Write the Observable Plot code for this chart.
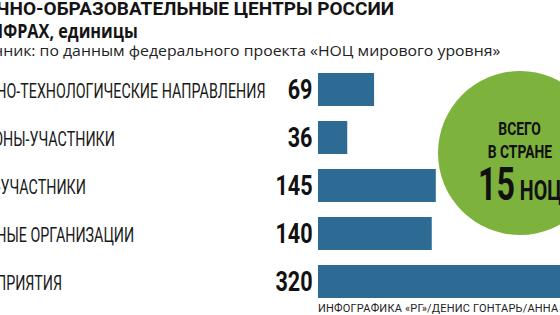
<!DOCTYPE html>
<html>
<head>
<meta charset="utf-8">
<script src="https://cdn.jsdelivr.net/npm/d3@7"></script>
<script src="https://cdn.jsdelivr.net/npm/@observablehq/plot@0.6"></script>
<style>
  html, body { margin: 0; padding: 0; background: #fff; }
  #wrap { position: relative; width: 560px; height: 315px; overflow: hidden; background: #fff;
          font-family: Roboto, "Noto Sans", sans-serif; color: #141414; }
  .line { position: absolute; white-space: nowrap; }
  .sx { display: inline-block; transform-origin: 0 50%; }
  #chart { position: absolute; left: 0; top: 62px; }
  #badge { position: absolute; left: 438px; top: 71px; width: 164px; height: 164px; border-radius: 50%;
           background: #7db23d; }
  #badge .bl { position: absolute; left: 0; width: 164px; text-align: center; white-space: nowrap; font-weight: 700; color: #111; }
  #badge .bl span.c { display: inline-block; transform-origin: 50% 50%; }
</style>
</head>
<body>
<div id="wrap">
  <div class="line" id="t1" style="left:-42px; top:-1px; font-size:19px; line-height:19px; font-weight:700;"><span class="sx"></span></div>
  <div class="line" id="t2" style="left:-38px; top:21.5px; font-family:'Open Sans', Roboto, sans-serif; font-size:19px; line-height:19px; font-weight:700;"><span class="sx" style="transform:scaleX(0.855)"></span></div>
  <div class="line" id="t3" style="left:-43.5px; top:43.4px; font-family:'Open Sans', Roboto, sans-serif; font-size:15px; line-height:15px; font-weight:400; color:#222;"><span class="sx" style="transform:scaleX(1.054)"></span></div>
  <div id="chart"></div>
  <div id="badge">
    <div class="bl" style="top:49px; font-size:18px; line-height:18px;"><span class="c" id="b1" style="transform:scaleX(0.77)"></span></div>
    <div class="bl" style="top:72px; font-size:18px; line-height:18px;"><span class="c" id="b2" style="transform:scaleX(0.77)"></span></div>
    <div class="bl" style="top:90px; font-size:46px; line-height:46px;"><span class="c" style="transform:scaleX(0.7)"><span id="b3"></span><span id="b4" style="font-size:28px;"></span></span></div>
  </div>
  <div class="line" id="foot" style="left:318px; top:303px; font-size:11px; line-height:11.5px; letter-spacing:0.2px; color:#222;"></div>
</div>
<script>
// ---- data ----
const titleLines = ["НАУЧНО-ОБРАЗОВАТЕЛЬНЫЕ ЦЕНТРЫ РОССИИ", "В ЦИФРАХ, единицы"];
const subtitle = "Источник: по данным федерального проекта «НОЦ мирового уровня»";
const categories = [
  "НАУЧНО-ТЕХНОЛОГИЧЕСКИЕ НАПРАВЛЕНИЯ",
  "РЕГИОНЫ-УЧАСТНИКИ",
  "ВУЗЫ-УЧАСТНИКИ",
  "НАУЧНЫЕ ОРГАНИЗАЦИИ",
  "ПРЕДПРИЯТИЯ"
];
const values = [69, 36, 145, 140, 320];
const badgeLines = ["ВСЕГО", "В СТРАНЕ"];
const totalCenters = 15;
const totalUnit = "НОЦ";
const credit = "ИНФОГРАФИКА «РГ»/ДЕНИС ГОНТАРЬ/АННА";

// ---- text ----
document.querySelector("#t1 .sx").textContent = titleLines[0];
document.querySelector("#t2 .sx").textContent = titleLines[1];
document.querySelector("#t3 .sx").textContent = subtitle;
document.getElementById("b1").textContent = badgeLines[0];
document.getElementById("b2").textContent = badgeLines[1];
document.getElementById("b3").textContent = String(totalCenters);
document.getElementById("b4").textContent = "\u00a0" + totalUnit;
document.getElementById("foot").textContent = credit;

// ---- chart ----
const data = categories.map((c, i) => ({category: c, value: values[i]}));

const chart = Plot.plot({
  width: 560,
  height: 253,
  marginLeft: 0, marginRight: 0, marginTop: 0, marginBottom: 0,
  style: {fontFamily: "Roboto, 'Noto Sans', sans-serif", background: "transparent", overflow: "visible"},
  x: {domain: [0, 320], range: [318, 578], axis: null},
  y: {domain: categories, range: [3.5, 243.5], paddingInner: 0.3125, paddingOuter: 0.15625, axis: null},
  marks: [
    Plot.barX(data, {x: "value", y: "category", fill: "#2d6a94"}),
    Plot.text(data, {x: 0, y: "category", text: d => String(d.value), textAnchor: "end", dx: -6, dy: 0.5,
                     fontSize: 28, fontWeight: 700, fill: "#111"}),
    Plot.text(data, {y: "category", text: "category", frameAnchor: "left", textAnchor: "start", dx: -42.6, dy: 1.5,
                     fontSize: 21, fontWeight: 400, fill: "#1a1a1a"})
  ]
});
document.getElementById("chart").appendChild(chart);

const textGroups = chart.querySelectorAll('g[aria-label="text"]');
function condense(group, s) {
  group.querySelectorAll("text").forEach(t => {
    const w = t.getComputedTextLength();
    t.setAttribute("textLength", (w * s).toFixed(2));
    t.setAttribute("lengthAdjust", "spacingAndGlyphs");
  });
}
condense(textGroups[0], 0.77);
condense(textGroups[1], 0.68);
</script>
</body>
</html>
